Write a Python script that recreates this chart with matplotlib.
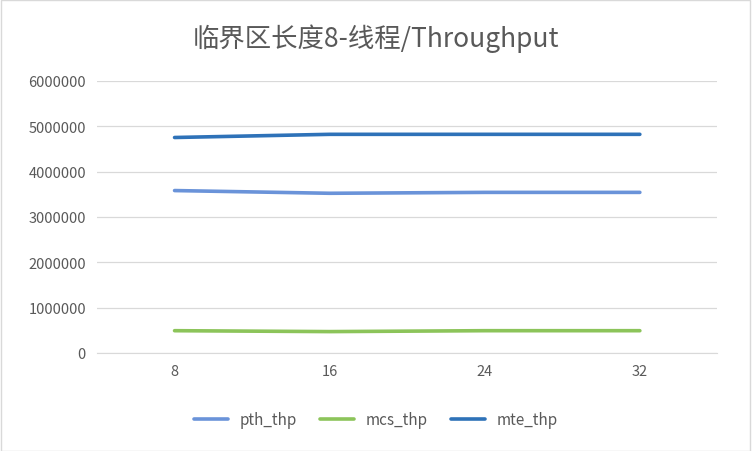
import matplotlib
matplotlib.use('Agg')
import matplotlib.pyplot as plt
from matplotlib.patches import Rectangle

plt.rcParams['font.family'] = ['Noto Sans CJK SC', 'DejaVu Sans']

threads = ['8', '16', '24', '32']
pth_thp = [3580000, 3520000, 3540000, 3540000]
mcs_thp = [490000, 470000, 490000, 490000]
mte_thp = [4750000, 4820000, 4820000, 4820000]

fig = plt.figure(figsize=(7.52, 4.52), dpi=100)
fig.patches.append(Rectangle((0.001, 0.001), 0.997, 0.997, transform=fig.transFigure,
                             fill=False, edgecolor='#D9D9D9', linewidth=1))
ax = fig.add_axes([0.129, 0.217, 0.825, 0.602])

x = range(len(threads))
ax.plot(x, pth_thp, color='#6A93D9', lw=2.6, label='pth_thp', solid_capstyle='round')
ax.plot(x, mcs_thp, color='#8CC45A', lw=2.6, label='mcs_thp', solid_capstyle='round')
ax.plot(x, mte_thp, color='#2E72B8', lw=2.6, label='mte_thp', solid_capstyle='round')

ax.set_xlim(-0.5, 3.5)
ax.set_ylim(0, 6000000)
ax.set_yticks(range(0, 6000001, 1000000))
ax.set_yticklabels([str(v) for v in range(0, 6000001, 1000000)])
ax.set_xticks(list(x))
ax.set_xticklabels(threads)
ax.grid(axis='y', color='#D9D9D9', lw=0.9)
ax.set_axisbelow(True)
for s in ['top', 'right', 'left']:
    ax.spines[s].set_visible(False)
ax.spines['bottom'].set_color('#D9D9D9')
ax.tick_params(length=0, colors='#595959', labelsize=10.5, pad=8)

fig.text(0.5, 0.915, '临界区长度8-线程/Throughput', ha='center', va='center',
         fontsize=19, color='#595959')
fig.legend(loc='center', bbox_to_anchor=(0.5, 0.07), ncol=3, frameon=False,
           fontsize=11, labelcolor='#595959', handlelength=2.2, columnspacing=1.5)

fig.savefig('out.png', dpi=100)
